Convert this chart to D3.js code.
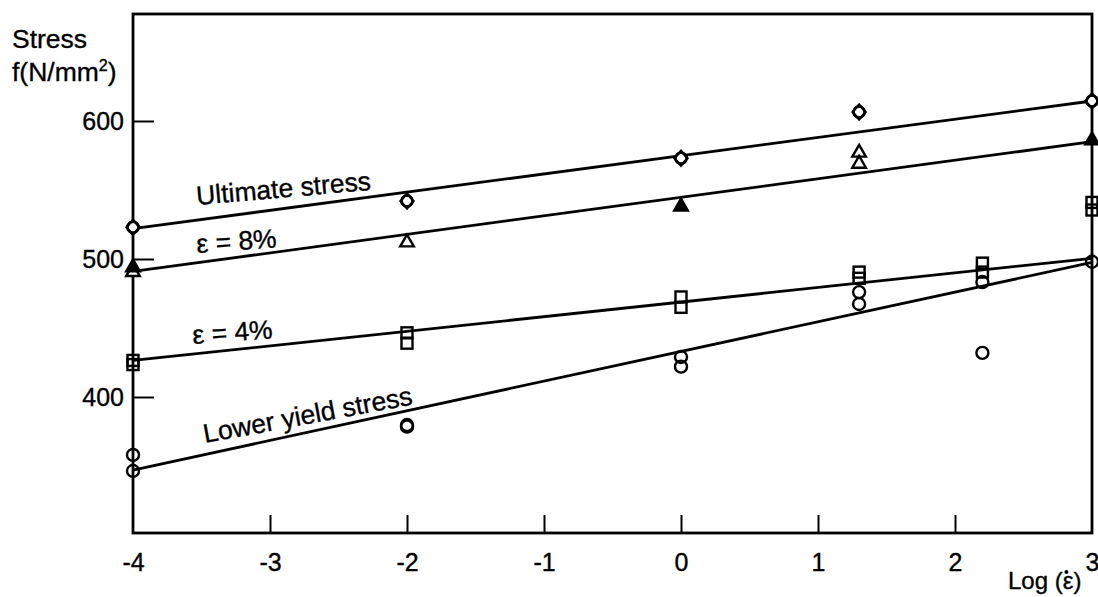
<!DOCTYPE html>
<html>
<head>
<meta charset="utf-8">
<script src="https://cdn.jsdelivr.net/npm/d3@7/dist/d3.min.js"></script>
<style>
  html, body { margin: 0; padding: 0; background: #fff; }
  svg { display: block; }
  text { font-family: "Liberation Sans", Arial, Helvetica, sans-serif; fill: #000; stroke: #000; stroke-width: 0.35px; }
</style>
</head>
<body>
<svg id="chart" width="1098" height="597"></svg>
<script>
// ---------- data ----------
const xTicks = [-4, -3, -2, -1, 0, 1, 2, 3];
const yTicks = [400, 500, 600];

// Ultimate stress (circle + diamond markers)
const ultimateX = [-4, -2, 0, 1.3, 3];
const ultimateY = [523, 542, 573, 606.5, 614.5];
const ultimateLine = [[-4, 522], [3, 614.5]];

// eps = 8% (filled and open triangles)
const eps8FilledX = [-4, 0, 3];
const eps8FilledY = [494, 538, 586];
const eps8OpenX = [-4, -2, 1.3, 1.3];
const eps8OpenY = [490.5, 512, 577, 569];
const eps8Line = [[-4, 491], [3, 585]];

// eps = 4% (squares)
const eps4X = [-4, -4, -2, -2, 0, 0, 1.3, 1.3, 2.2, 2.2, 3, 3];
const eps4Y = [426.5, 423.5, 446.5, 439, 472.5, 465, 490.5, 486, 497, 490.5, 541, 535.5];
const eps4Line = [[-4, 426.5], [3, 500.5]];

// Lower yield stress (circles)
const yieldX = [-4, -4, -2, -2, 0, 0, 1.3, 1.3, 2.2, 2.2, 3];
const yieldY = [358, 346.4, 379.7, 378.5, 429, 422, 476, 467.4, 483.3, 432, 498];
const yieldLine = [[-4, 347], [3, 497.5]];

const curveLabels = ["Ultimate stress", "\u03b5 = 8%", "\u03b5 = 4%", "Lower yield stress"];

(function draw() {
  const svg = d3.select("#chart");
  const L = 133, R = 1092, T = 14, B = 533;
  const x = d3.scaleLinear().domain([-4, 3]).range([L, R]);
  const yMin = 400 - (B - 397) / 1.38;
  const yMax = 600 + (121 - T) / 1.38;
  const y = d3.scaleLinear().domain([yMin, yMax]).range([B, T]);

  const TICKFONT = 25;
  const LABFONT = 26.5;

  // frame
  svg.append("rect")
    .attr("x", L).attr("y", T)
    .attr("width", R - L).attr("height", B - T)
    .attr("fill", "none").attr("stroke", "#000").attr("stroke-width", 2.8);

  // x axis (inward ticks)
  const xAxis = d3.axisBottom(x).tickValues(xTicks).tickSizeInner(-18).tickSizeOuter(0)
    .tickFormat(d => d < 0 ? "-" + Math.abs(d) : String(d));
  const gx = svg.append("g").attr("transform", `translate(0,${B})`).call(xAxis);
  gx.select(".domain").remove();
  gx.selectAll(".tick line").attr("stroke", "#000").attr("stroke-width", 2)
    .filter(d => d === -4 || d === 3).remove();
  gx.selectAll(".tick text").attr("font-size", TICKFONT).attr("y", 0).attr("dy", "1.5em")
    .attr("font-family", "Liberation Sans, Arial, sans-serif");

  // y axis (inward ticks)
  const yAxis = d3.axisLeft(y).tickValues(yTicks).tickSizeInner(-21).tickSizeOuter(0);
  const gy = svg.append("g").attr("transform", `translate(${L},0)`).call(yAxis);
  gy.select(".domain").remove();
  gy.selectAll(".tick line").attr("stroke", "#000").attr("stroke-width", 2);
  gy.selectAll(".tick text").attr("font-size", TICKFONT).attr("x", -9)
    .attr("font-family", "Liberation Sans, Arial, sans-serif");

  // axis titles
  svg.append("text").attr("x", 12).attr("y", 48).attr("font-size", LABFONT).text("Stress");
  const ft = svg.append("text").attr("x", 12).attr("y", 81).attr("font-size", LABFONT);
  ft.append("tspan").text("f(N/mm");
  ft.append("tspan").attr("font-size", 16).attr("dy", -10).text("2");
  ft.append("tspan").attr("dy", 10).text(")");

  const xt = svg.append("text").attr("x", 1008).attr("y", 589).attr("font-size", 24).text("Log (\u03b5)");
  const bb = xt.node().getBBox();
  // dot above epsilon
  svg.append("circle").attr("cx", bb.x + bb.width - 15).attr("cy", bb.y + 5).attr("r", 2).attr("fill", "#000");

  // regression lines
  const lineGen = d3.line().x(d => x(d[0])).y(d => y(d[1]));
  [ultimateLine, eps8Line, eps4Line, yieldLine].forEach(l => {
    svg.append("path").attr("d", lineGen(l)).attr("fill", "none")
      .attr("stroke", "#000").attr("stroke-width", 2.8);
  });

  // markers
  const mk = svg.append("g").attr("fill", "none").attr("stroke", "#000").attr("stroke-width", 2.4);
  const zip = (xs, ys) => xs.map((v, i) => [v, ys[i]]);

  zip(ultimateX, ultimateY).forEach(d => {
    mk.append("circle").attr("cx", x(d[0])).attr("cy", y(d[1])).attr("r", 5.5).attr("fill", "#fff");
    mk.append("path").attr("transform", `translate(${x(d[0])},${y(d[1])})`)
      .attr("d", "M0,-7.5L6.5,0L0,7.5L-6.5,0Z");
    mk.append("circle").attr("cx", x(d[0])).attr("cy", y(d[1])).attr("r", 5.5);
  });

  const tri = d3.symbol().type(d3.symbolTriangle).size(80);
  zip(eps8OpenX, eps8OpenY).forEach(d => {
    mk.append("path").attr("transform", `translate(${x(d[0])},${y(d[1])})`).attr("d", tri())
      .attr("fill", "#fff");
  });
  zip(eps8FilledX, eps8FilledY).forEach(d => {
    mk.append("path").attr("transform", `translate(${x(d[0])},${y(d[1])})`).attr("d", tri())
      .attr("fill", "#000");
  });

  zip(eps4X, eps4Y).forEach(d => {
    mk.append("rect").attr("x", x(d[0]) - 5.5).attr("y", y(d[1]) - 5.5)
      .attr("width", 11).attr("height", 11).attr("fill", "none");
  });

  zip(yieldX, yieldY).forEach(d => {
    mk.append("circle").attr("cx", x(d[0])).attr("cy", y(d[1])).attr("r", 6).attr("fill", "none");
  });

  // curve labels
  const labelPos = [[197, 205, -5], [197, 253, -4], [193, 344, -4], [205, 443, -10.5]];
  curveLabels.forEach((t, i) => {
    const p = labelPos[i];
    svg.append("text").attr("transform", `translate(${p[0]},${p[1]}) rotate(${p[2]})`)
      .attr("font-size", LABFONT).text(t);
  });
})();
</script>
</body>
</html>
